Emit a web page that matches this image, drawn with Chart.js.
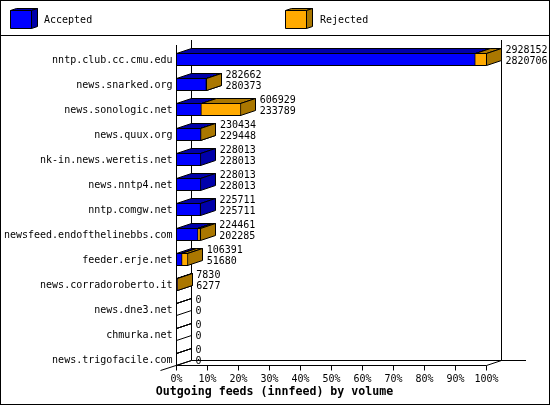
<!DOCTYPE html>
<html>
<head>
<meta charset="utf-8">
<style>
  html, body { margin: 0; padding: 0; background: #fff; }
  canvas { display: block; }
</style>
<script src="https://cdn.jsdelivr.net/npm/chart.js@4/dist/chart.umd.min.js"></script>
</head>
<body>
<canvas id="feeds" width="550" height="405"></canvas>
<script>
const servers = ['nntp.club.cc.cmu.edu', 'news.snarked.org', 'news.sonologic.net', 'news.quux.org',
    'nk-in.news.weretis.net', 'news.nntp4.net', 'nntp.comgw.net', 'newsfeed.endofthelinebbs.com',
    'feeder.erje.net', 'news.corradoroberto.it', 'news.dne3.net', 'chmurka.net', 'news.trigofacile.com'];
const accepted = [2820706, 280373, 233789, 229448, 228013, 228013, 225711, 202285, 51680, 6277, 0, 0, 0];
const rejected = [2928152, 282662, 606929, 230434, 228013, 228013, 225711, 224461, 106391, 7830, 0, 0, 0];
const percentTicks = [0, 10, 20, 30, 40, 50, 60, 70, 80, 90, 100];
const legendNames = ['Accepted', 'Rejected'];
const chartTitle = 'Outgoing feeds (innfeed) by volume';

const BLUE = '#0000ff', DARK_BLUE = '#0000aa', ORANGE = '#ffaa00', BROWN = '#aa7700';
const MONO = '"DejaVu Sans Mono", monospace';
const DX = 15, DY = -5;
const maxVolume = Math.max(...rejected);

function poly(ctx, points, fill) {
    ctx.beginPath();
    points.forEach((p, i) => i ? ctx.lineTo(p[0], p[1]) : ctx.moveTo(p[0], p[1]));
    ctx.closePath();
    if (fill) {
        ctx.fillStyle = fill;
        ctx.fill();
    }
    ctx.strokeStyle = '#000';
    ctx.lineWidth = 1;
    ctx.stroke();
}

function line(ctx, x1, y1, x2, y2) {
    ctx.beginPath();
    ctx.moveTo(x1, y1);
    ctx.lineTo(x2, y2);
    ctx.strokeStyle = '#000';
    ctx.lineWidth = 1;
    ctx.stroke();
}

function snap(v) {
    return Math.floor(v) + 0.5;
}

// top and side of one bar segment, running from x1 to x2
function drawDepth(ctx, x1, x2, top, bottom, topColor) {
    poly(ctx, [[x1, top], [x1 + DX, top + DY], [x2 + DX, top + DY], [x2, top]], topColor);
    poly(ctx, [[x2, top], [x2 + DX, top + DY], [x2 + DX, bottom + DY], [x2, bottom]], topColor);
}

function drawCube(ctx, x, color, dark) {
    const l = x + 0.5, r = x + 21.5, t = 10.5, b = 28.5, dx = 6, dy = -2;
    poly(ctx, [[l, t], [l + dx, t + dy], [r + dx, t + dy], [r, t]], dark);
    poly(ctx, [[r, t], [r + dx, t + dy], [r + dx, b + dy], [r, b]], dark);
    poly(ctx, [[l, t], [r, t], [r, b], [l, b]], color);
}

const frame3d = {
    id: 'frame3d',
    beforeDraw(chart) {
        const ctx = chart.ctx;
        ctx.save();
        ctx.fillStyle = '#fff';
        ctx.fillRect(0, 0, 550, 405);
        ctx.strokeStyle = '#000';
        ctx.lineWidth = 1;
        ctx.strokeRect(0.5, 0.5, 549, 404);
        line(ctx, 0, 35.5, 550, 35.5);
        drawCube(ctx, 10, BLUE, DARK_BLUE);
        drawCube(ctx, 285, ORANGE, BROWN);
        ctx.fillStyle = '#000';
        ctx.font = '10px ' + MONO;
        ctx.textBaseline = 'middle';
        ctx.textAlign = 'left';
        ctx.fillText(legendNames[0], 44, 20.5);
        ctx.fillText(legendNames[1], 320, 20.5);
        // title sits on the middle of the whole picture, not of the plot
        ctx.font = 'bold 11.6px ' + MONO;
        ctx.textAlign = 'center';
        ctx.fillText(chartTitle, 274.5, 392);
        ctx.restore();
    },
    beforeDatasetsDraw(chart) {
        const ctx = chart.ctx;
        const xs = chart.scales.x;
        const x0 = snap(xs.getPixelForValue(0));
        const x100 = snap(xs.getPixelForValue(maxVolume));
        const floor = 365.5;
        ctx.save();
        // walls and floor
        line(ctx, x0 + DX, 40, x0 + DX, floor + DY);
        line(ctx, x100 + DX, 40, x100 + DX, floor + DY);
        line(ctx, x0 + DX, floor + DY, 526, floor + DY);
        line(ctx, x0, floor, x100, floor);
        line(ctx, x0 - DX - 1, floor + 5, x0 + DX, floor + DY);
        line(ctx, x100, floor, x100 + DX, floor + DY);
        percentTicks.forEach(p => {
            const x = snap(xs.getPixelForValue(p / 100 * maxVolume));
            line(ctx, x, floor, x, floor + 5);
        });
        const blue = chart.getDatasetMeta(0).data;
        const orange = chart.getDatasetMeta(1).data;
        servers.forEach((s, i) => {
            const top = snap(blue[i].y - 6);
            const bottom = top + 12;
            const xa = snap(blue[i].x);
            const xr = snap(orange[i].x);
            // feeds with no volume leave only the outline on the wall
            drawDepth(ctx, x0, xa, top, bottom, accepted[i] > 0 ? DARK_BLUE : null);
            if (rejected[i] > accepted[i]) {
                drawDepth(ctx, xa, xr, top, bottom, BROWN);
            }
        });
        ctx.restore();
    },
    afterDatasetsDraw(chart) {
        const ctx = chart.ctx;
        const xs = chart.scales.x;
        const x0 = snap(xs.getPixelForValue(0));
        ctx.save();
        line(ctx, x0, 45, x0, 365.5);
        const blue = chart.getDatasetMeta(0).data;
        const orange = chart.getDatasetMeta(1).data;
        ctx.fillStyle = '#000';
        ctx.font = '10px ' + MONO;
        ctx.textAlign = 'left';
        ctx.textBaseline = 'middle';
        servers.forEach((s, i) => {
            const x = orange[i].x + DX + 4;
            ctx.fillText(String(rejected[i]), x, blue[i].y - 9);
            ctx.fillText(String(accepted[i]), x, blue[i].y + 2);
        });
        ctx.restore();
    },
};

const barStyle = {
    borderColor: '#000',
    borderWidth: 1,
    borderSkipped: false,
    inflateAmount: 0.5,
    barThickness: 12,
    grouped: false,
};

new Chart(document.getElementById('feeds').getContext('2d'), {
    type: 'bar',
    data: {
        labels: servers,
        datasets: [
            { label: legendNames[0], data: accepted, backgroundColor: BLUE, order: 1, ...barStyle },
            { label: legendNames[1], data: rejected, backgroundColor: ORANGE, order: 2, ...barStyle },
        ],
    },
    options: {
        indexAxis: 'y',
        responsive: false,
        animation: false,
        layout: { padding: { top: 47, left: 0, right: 63.5, bottom: 0 } },
        plugins: {
            legend: { display: false },
            tooltip: { enabled: false },
        },
        scales: {
            x: {
                type: 'linear',
                min: 0,
                max: maxVolume,
                grid: { display: false, drawTicks: false },
                border: { display: false },
                afterFit(scale) { scale.height = 33; },
                afterBuildTicks(scale) {
                    scale.ticks = percentTicks.map(p => ({ value: p / 100 * maxVolume }));
                },
                afterTickToLabelConversion(scale) {
                    scale.ticks.forEach((t, i) => { t.label = percentTicks[i] + '%'; });
                },
                ticks: {
                    autoSkip: false,
                    maxRotation: 0,
                    padding: 1,
                    color: '#000',
                    font: { family: MONO, size: 10 },
                },
            },
            y: {
                grid: { display: false, drawTicks: false },
                border: { display: false },
                afterFit(scale) { scale.width = 176.5; },
                ticks: {
                    autoSkip: false,
                    padding: 4,
                    labelOffset: 1,
                    color: '#000',
                    font: { family: MONO, size: 10 },
                },
            },
        },
    },
    plugins: [frame3d],
});
</script>
</body>
</html>
